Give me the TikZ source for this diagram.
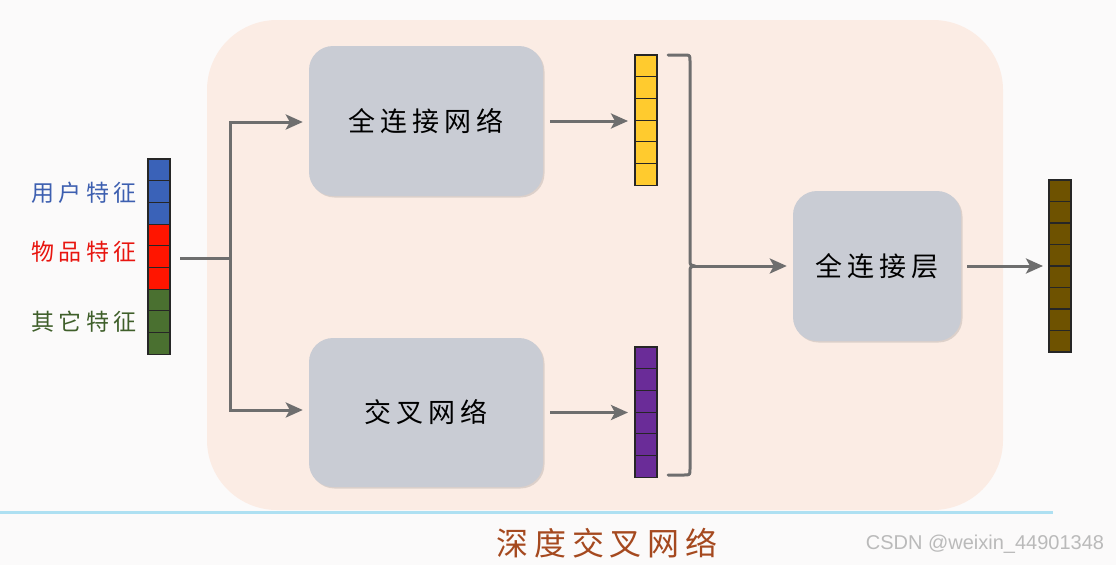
\documentclass[tikz,border=0pt]{standalone}
\usepackage{fontspec}
\newfontfamily\cjk[LetterSpace=18]{Noto Sans CJK SC}
\setsansfont{Liberation Sans}
\usetikzlibrary{arrows.meta,shadows}
\definecolor{pagebg}{HTML}{FBFAFA}
\definecolor{panel}{HTML}{FBECE4}
\definecolor{boxfill}{HTML}{C9CCD4}
\definecolor{conn}{HTML}{6E6E6E}
\definecolor{ublue}{HTML}{3A62B8}
\definecolor{ired}{HTML}{FF1500}
\definecolor{ogreen}{HTML}{4A7030}
\definecolor{yell}{HTML}{FFCB2E}
\definecolor{purp}{HTML}{6A2C98}
\definecolor{brown}{HTML}{6E5200}
\definecolor{ltblue}{HTML}{AEE0F2}
\definecolor{titlec}{HTML}{A5491F}
\definecolor{labblue}{HTML}{3D5FB0}
\definecolor{labred}{HTML}{E8150F}
\definecolor{labgreen}{HTML}{3F5F2A}
\tikzset{
  netbox/.style={draw=none, fill=boxfill, rounded corners=24pt, font=\cjk\fontsize{27}{30}\selectfont,
    drop shadow={shadow xshift=1.5pt, shadow yshift=-1.5pt, opacity=0.25}},
  conline/.style={draw=conn, line width=3pt},
  conarrow/.style={conline, -{Stealth[length=17pt,width=15pt,inset=4pt]}},
  cell/.style={draw=black!85, line width=1.1pt},
  sidelab/.style={font=\cjk\fontsize{23}{26}\selectfont}
}
\newcommand{\vecbar}[5]{% x, ytop, n, cellh, color
  \foreach \i in {1,...,#3}{
    \draw[cell, fill=#5] (#1,{#2+(\i-1)*#4}) rectangle ++(22,#4);
  }
}
\begin{document}
\begin{tikzpicture}[x=1pt,y=-1pt]
\fill[pagebg] (0,0) rectangle (1116,565);
\useasboundingbox (0,0) rectangle (1116,565);
% panel
\fill[panel, rounded corners=70pt] (207,20) rectangle (1003,510);
\draw[ltblue, line width=3pt] (0,512) -- (1053,512);
% input vector
\node[sidelab, text=labblue] (lu) at (84,193) {用户特征};
\node[sidelab, text=labred] (li) at (84,252) {物品特征};
\node[sidelab, text=labgreen] (lo) at (84,322) {其它特征};
\foreach \i in {0,1,2}{\draw[cell, fill=ublue] (148,{159+\i*21.7}) rectangle ++(22,21.7);}
\foreach \i in {3,4,5}{\draw[cell, fill=ired] (148,{159+\i*21.7}) rectangle ++(22,21.7);}
\foreach \i in {6,7,8}{\draw[cell, fill=ogreen] (148,{159+\i*21.7}) rectangle ++(22,21.7);}
\node[inner sep=0, minimum width=22pt, minimum height=195.3pt, anchor=north west] (invec) at (148,159) {};
% boxes
\node[netbox, minimum width=234pt, minimum height=150pt] (fc) at (426,121) {全连接网络};
\node[netbox, minimum width=234pt, minimum height=149pt] (cross) at (426,412.5) {交叉网络};
\node[netbox, minimum width=168pt, minimum height=150pt] (fcl) at (877,266) {全连接层};
% vectors
\vecbar{635}{55}{6}{21.7}{yell}
\node[inner sep=0, minimum width=22pt, minimum height=130pt, anchor=north west] (yv) at (635,55) {};
\vecbar{635}{347}{6}{21.7}{purp}
\node[inner sep=0, minimum width=22pt, minimum height=130pt, anchor=north west] (pv) at (635,347) {};
\vecbar{1049}{180}{8}{21.5}{brown}
\node[inner sep=0, minimum width=22pt, minimum height=172pt, anchor=north west] (ov) at (1049,180) {};
% connectors
\coordinate (split) at (230,258);
\coordinate (splitT) at (230,122);
\coordinate (splitB) at (230,410);
\draw[conline] ([xshift=10pt]invec.east |- split) -- (split);
\draw[conarrow] (splitB) -- (splitT) -- ([xshift=-6pt]fc.west |- splitT);
\draw[conarrow] (splitT |- split) -- (splitB) -- ([xshift=-6pt]cross.west |- splitB);
\draw[conarrow] ([xshift=7pt]fc.east) -- ([xshift=-7pt]yv.west |- fc.east);
\draw[conarrow] ([xshift=7pt]cross.east) -- ([xshift=-7pt]pv.west |- cross.east);
% bracket
\coordinate (btip) at (693,266);
\draw[conline, line cap=round, line join=round] (668,55) -- (684,55) .. controls (690,55) .. (690,61)
  -- (690,260) .. controls (690,265) .. (695,266) .. controls (690,267) .. (690,272)
  -- (690,469) .. controls (690,475) .. (684,475) -- (668,475);
\draw[conarrow] (btip) -- ([xshift=-6pt]fcl.west);
\draw[conarrow] ([xshift=6pt]fcl.east) -- ([xshift=-6pt]ov.west |- fcl.east);
% title
\node[font=\cjk\fontsize{32}{36}\selectfont, text=titlec] (title) at (607,543) {深度交叉网络};
\node[font=\sffamily\fontsize{20}{23}\selectfont, text=black!27] (wm) at (985,544) {CSDN @weixin\_44901348};
\end{tikzpicture}
\end{document}
